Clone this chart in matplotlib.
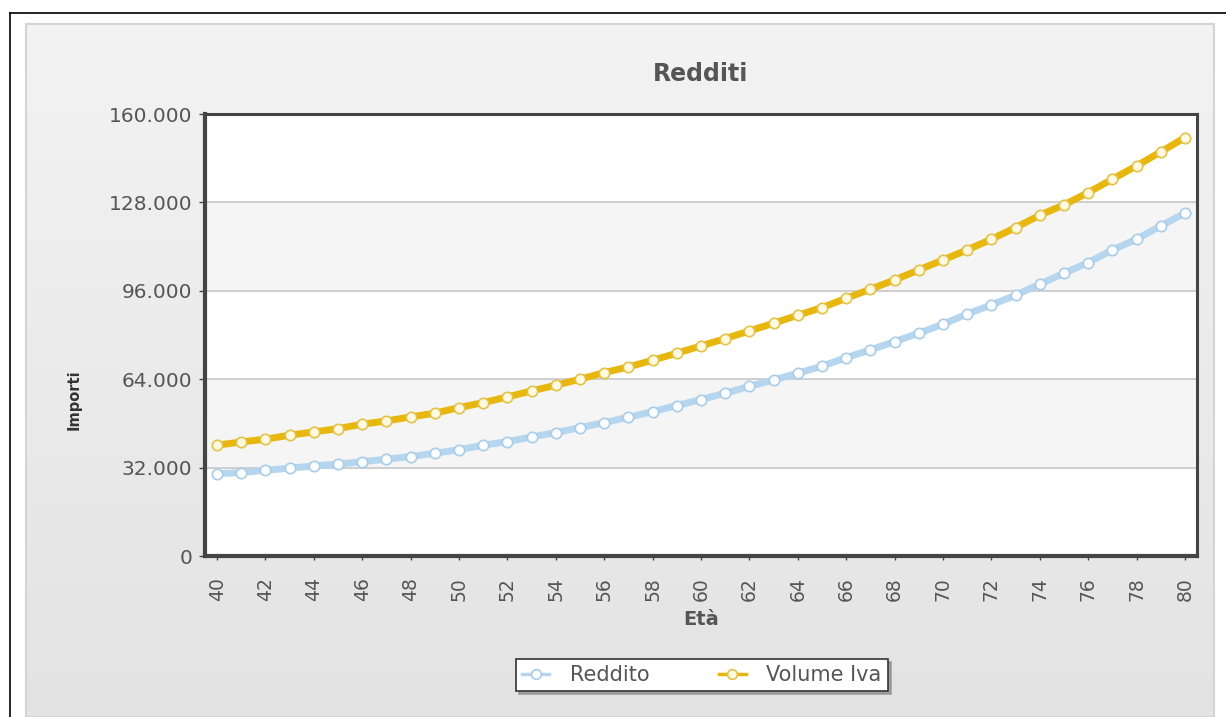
import matplotlib
matplotlib.use("Agg")
import matplotlib.pyplot as plt
import numpy as np
from matplotlib.lines import Line2D
from matplotlib.ticker import FuncFormatter

plt.rcParams['font.family'] = 'DejaVu Sans'

# data
eta = list(range(40, 81))
reddito = [29830, 30190, 31060, 31780, 32620, 33230, 34170, 35040, 35980, 37210,
           38480, 40110, 41410, 43110, 44670, 46480, 48290, 50230, 52270, 54460,
           56640, 58930, 61400, 63700, 66170, 68700, 71830, 74610, 77610, 80650,
           83910, 87600, 90890, 94400, 98380, 102370, 106210, 110800, 114680, 119490,
           124090]
volume_iva = [40110, 41300, 42280, 43730, 44920, 46120, 47710, 48900, 50350, 51690,
              53720, 55530, 57590, 59760, 61820, 64000, 66390, 68450, 70880, 73410,
              76050, 78690, 81480, 84250, 87150, 89920, 93300, 96560, 99930, 103550,
              107170, 110800, 114680, 118880, 123370, 127100, 131550, 136400, 141220, 146290,
              151450]
y_ticks = [0, 32000, 64000, 96000, 128000, 160000]
x_ticks = list(range(40, 81, 2))

W, H = 1226, 717
fig = plt.figure(figsize=(W / 100, H / 100), dpi=100, facecolor='white')

# outer black frame (left + top only visible)
fig.add_artist(Line2D([10 / W, 10 / W], [0, 1 - 13 / H], color='black', lw=1.2))
fig.add_artist(Line2D([10 / W, 1], [1 - 13 / H, 1 - 13 / H], color='black', lw=1.2))

# grey gradient panel behind the chart
bg = fig.add_axes([26 / W, 0, (1214 - 26) / W, 1 - 24 / H], zorder=-5)
grad = np.linspace(0, 1, 256).reshape(-1, 1)
bg.imshow(grad, aspect='auto', cmap=matplotlib.colors.LinearSegmentedColormap.from_list(
    'g', ['#f3f3f3', '#e3e3e3']), extent=[0, 1, 0, 1], origin='upper')
bg.set_xticks([])
bg.set_yticks([])
for s in bg.spines.values():
    s.set_color('#d4d4d4')
    s.set_linewidth(1.5)

ax = fig.add_axes([205 / W, (717 - 556) / H, 992 / W, 442 / H])
ax.set_facecolor('white')

# alternate bands
for lo in (32000, 96000):
    ax.axhspan(lo, lo + 32000, color='#f5f5f5', zorder=0)
for yv in y_ticks[1:-1]:
    ax.axhline(yv, color='#cccccc', lw=1.3, zorder=1)

red_style = dict(color='#b5d6ee', marker='o', mfc='#fbfdff', mec='#a9cde8', mew=1.2)
iva_style = dict(color='#e8b70e', marker='o', mfc='#fff9e0', mec='#e3c24a', mew=1.2)

ax.plot(eta, reddito, lw=5, ms=7.5, zorder=3, **red_style)
ax.plot(eta, volume_iva, lw=5, ms=7.5, zorder=4, **iva_style)

ax.set_xlim(39.5, 80.5)
ax.set_ylim(0, 160000)
ax.set_yticks(y_ticks)
ax.set_xticks(x_ticks)
ax.yaxis.set_major_formatter(FuncFormatter(lambda v, p: f"{int(v):,}".replace(",", ".")))
ax.tick_params(axis='y', colors='#555555', labelsize=14.5, length=4, width=1, pad=5)
ax.tick_params(axis='x', colors='#555555', labelsize=13.5, length=3, width=1, pad=12,
               labelrotation=90)
ax.tick_params(axis='both', color='#444444')

for s in ax.spines.values():
    s.set_color('#444444')
    s.set_linewidth(2.2)
ax.spines['left'].set_linewidth(3)
ax.spines['bottom'].set_linewidth(3)

ax.text(0.5, 1.09, 'Redditi', transform=ax.transAxes, ha='center', va='center',
        fontsize=17, fontweight='bold', color='#555555')
ax.set_ylabel('Importi', fontsize=10.5, fontweight='bold', color='#333333')
ax.yaxis.set_label_coords(-0.124, 0.353)
ax.set_xlabel('Età', fontsize=14, fontweight='bold', color='#555555')
ax.xaxis.set_label_coords(0.5, -0.122)

handles = [Line2D([], [], lw=2.5, ms=7, **red_style),
           Line2D([], [], lw=2.5, ms=7, **iva_style)]
leg = ax.legend(handles, ['Reddito', 'Volume Iva'], loc='center',
                bbox_to_anchor=(702 / W, 1 - 675 / H),
                bbox_transform=fig.transFigure, ncol=2, frameon=True,
                fancybox=False, shadow={'color': '#888888', 'alpha': 0.7},
                fontsize=15, labelcolor='#555555',
                handlelength=1.3, columnspacing=3.3, handletextpad=1.0,
                borderpad=0.3, borderaxespad=0)
leg.get_frame().set_edgecolor('#333333')
leg.get_frame().set_linewidth(1.2)

fig.savefig('out.png', dpi=100, facecolor='white')
